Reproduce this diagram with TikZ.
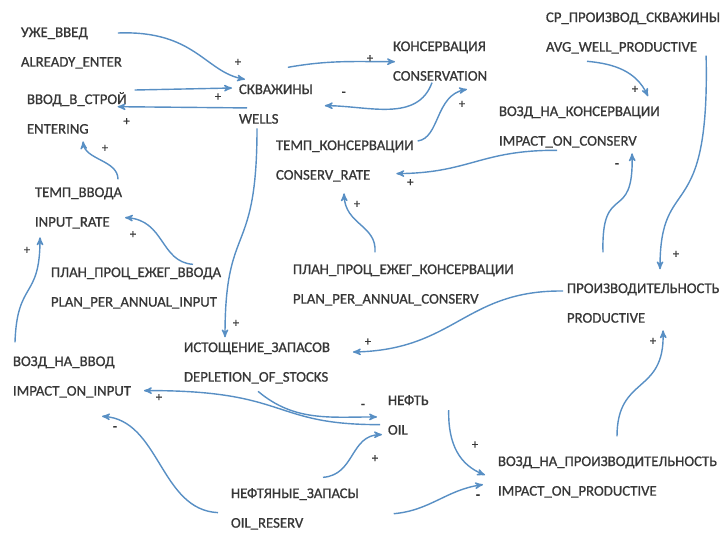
\documentclass[tikz,border=0pt]{standalone}
\usepackage{fontspec}
\setmainfont{Carlito}
\newfontfamily\varfont{Carlito}[FakeBold=0.9]
\usepackage{tikz}
\usetikzlibrary{arrows,positioning}
\definecolor{linkblue}{RGB}{88,143,196}
\definecolor{labelgray}{RGB}{55,55,55}

\begin{document}
\begin{tikzpicture}[x=0.025cm,y=-0.025cm,->,>=stealth',thick,node distance=0.74cm,
	var node/.style={anchor=west,inner sep=1pt,text height=1.6ex,text depth=.4ex,text=labelgray,font=\varfont\fontsize{10.5}{12}\selectfont},
	link/.style={draw=linkblue,line width=1pt},
	sign/.style={text=labelgray,font=\varfont\small,inner sep=0pt}]
	\useasboundingbox (0,0) rectangle (721,535);

	\node[var node] (ALR) at (19,33) {УЖЕ\_ВВЕД};
	\node[var node,below=of ALR.west,anchor=west] (ALRe) {ALREADY\_ENTER};
	\node[var node] (ENT) at (25,100) {ВВОД\_В\_СТРОЙ};
	\node[var node,below=of ENT.west,anchor=west] (ENTe) {ENTERING};
	\node[var node] (WEL) at (237,90) {СКВАЖИНЫ};
	\node[var node,below=of WEL.west,anchor=west] (WELe) {WELLS};
	\node[var node] (CON) at (391,47) {КОНСЕРВАЦИЯ};
	\node[var node,below=of CON.west,anchor=west] (CONe) {CONSERVATION};
	\node[var node] (AVG) at (544,18) {СР\_ПРОИЗВОД\_СКВАЖИНЫ};
	\node[var node,below=of AVG.west,anchor=west] (AVGe) {AVG\_WELL\_PRODUCTIVE};
	\node[var node] (IMC) at (497,112) {ВОЗД\_НА\_КОНСЕРВАЦИИ};
	\node[var node,below=of IMC.west,anchor=west] (IMCe) {IMPACT\_ON\_CONSERV};
	\node[var node] (CRT) at (274,146) {ТЕМП\_КОНСЕРВАЦИИ};
	\node[var node,below=of CRT.west,anchor=west] (CRTe) {CONSERV\_RATE};
	\node[var node] (IRT) at (33,193) {ТЕМП\_ВВОДА};
	\node[var node,below=of IRT.west,anchor=west] (IRTe) {INPUT\_RATE};
	\node[var node] (PPI) at (49,273) {ПЛАН\_ПРОЦ\_ЕЖЕГ\_ВВОДА};
	\node[var node,below=of PPI.west,anchor=west] (PPIe) {PLAN\_PER\_ANNUAL\_INPUT};
	\node[var node] (PPC) at (291,270) {ПЛАН\_ПРОЦ\_ЕЖЕГ\_КОНСЕРВАЦИИ};
	\node[var node,below=of PPC.west,anchor=west] (PPCe) {PLAN\_PER\_ANNUAL\_CONSERV};
	\node[var node] (PRD) at (565,289) {ПРОИЗВОДИТЕЛЬНОСТЬ};
	\node[var node,below=of PRD.west,anchor=west] (PRDe) {PRODUCTIVE};
	\node[var node] (DEP) at (182,348) {ИСТОЩЕНИЕ\_ЗАПАСОВ};
	\node[var node,below=of DEP.west,anchor=west] (DEPe) {DEPLETION\_OF\_STOCKS};
	\node[var node] (IMI) at (11,362) {ВОЗД\_НА\_ВВОД};
	\node[var node,below=of IMI.west,anchor=west] (IMIe) {IMPACT\_ON\_INPUT};
	\node[var node] (OIL) at (386,401) {НЕФТЬ};
	\node[var node,below=of OIL.west,anchor=west] (OILe) {OIL};
	\node[var node] (IMP) at (496,462) {ВОЗД\_НА\_ПРОИЗВОДИТЕЛЬНОСТЬ};
	\node[var node,below=of IMP.west,anchor=west] (IMPe) {IMPACT\_ON\_PRODUCTIVE};
	\node[var node] (RES) at (229,494) {НЕФТЯНЫЕ\_ЗАПАСЫ};
	\node[var node,below=of RES.west,anchor=west] (RESe) {OIL\_RESERV};

	\draw[link] ([shift={(28,0)}]ALR.east) .. controls (195,30) and (205,72) .. ([shift={(8,-2)}]WEL.north west) node[sign,shift={(-7,-17)}] {+};
	\draw[link] ([shift={(6,-10)}]ENT.east) -- ([shift={(-5,-2)}]WEL.west) node[sign,shift={(-14,9)}] {+};
	\draw[link] ([shift={(10,-3)}]WELe.north west) -- ([shift={(-11,-2)}]ENT.south east) node[sign,shift={(9,15)}] {+};
	\draw[link] ([shift={(12,-14)}]WEL.north) to[out=10,in=180] ([shift={(4,6)}]CON.south west) node[sign,shift={(-25,-3)}] {+};
	\draw[link] ([shift={(41,6)}]CONe.west) to[out=-110,in=0] ([shift={(10,7)}]WEL.south east) node[sign,shift={(19,-12)}] {\textbf{-}};
	\draw[link] ([shift={(2,-5)}]CRT.east) .. controls (440,138) and (435,95) .. ([shift={(76,4)}]CONe.south west) node[sign,shift={(-5,15)}] {+};
	\draw[link] ([shift={(60,0)}]IMCe.south west) .. controls (480,150) and (470,173) .. ([shift={(24,-2)}]CRTe.east) node[sign,shift={(14,9)}] {+};
	\draw[link] ([shift={(84,-9)}]PPC.north west) .. controls (377,225) and (345,225) .. ([shift={(70,9)}]CRTe.south west) node[sign,shift={(13,11)}] {+};
	\draw[link] ([shift={(43,5)}]AVGe.south west) to[out=-5,in=115] ([shift={(151,-7)}]IMC.north west) node[sign,shift={(-13,-7)}] {+};
	\draw[link] ([shift={(7,8)}]AVGe.east) .. controls (710,230) and (660,170) .. ([shift={(95,-11)}]PRD.north west) node[sign,shift={(16,-15)}] {+};
	\draw[link] ([shift={(38,-28)}]PRD.north west) .. controls (601,180) and (634,225) .. ([shift={(135,3)}]IMCe.south west) node[sign,shift={(-15,12)}] {\textbf{-}};
	\draw[link] ([shift={(-2,2)}]PRD.west) .. controls (465,290) and (455,350) .. ([shift={(21,4)}]DEP.east) node[sign,shift={(15,-10)}] {+};
	\draw[link] ([shift={(20,0)}]WELe.south west) .. controls (257,260) and (225,220) .. ([shift={(43,-2)}]DEP.north west) node[sign,shift={(11,-14)}] {+};
	\draw[link] ([shift={(85,-5)}]IRT.north west) .. controls (118,160) and (85,160) .. ([shift={(58,3)}]ENTe.south west) node[sign,shift={(22,7)}] {+};
	\draw[link] ([shift={(144,0)}]PPI.north west) .. controls (160,262) and (165,220) .. ([shift={(92,-5)}]IRTe.west) node[sign,shift={(8,17)}] {+};
	\draw[link] ([shift={(4,-11)}]IMI.north west) .. controls (17,280) and (40,300) .. ([shift={(7,6)}]IRTe.south west) node[sign,shift={(-13,13)}] {+};
	\draw[link] ([shift={(76,5)}]DEPe.south west) to[out=-40,in=180] ([shift={(-9,-5)}]OILe.north west) node[sign,shift={(-14,-11)}] {\textbf{-}};
	\draw[link] ([shift={(-6,-6)}]OILe.west) .. controls (270,425) and (290,390) .. ([shift={(11,-1)}]IMIe.east) node[sign,shift={(15,7)}] {+};
	\draw[link] ([shift={(94,-8)}]RES.north west) .. controls (355,475) and (350,435) .. ([shift={(-4,4)}]OILe.west) node[sign,shift={(-7,24)}] {+};
	\draw[link] ([shift={(-11,-11)}]RESe.west) .. controls (160,510) and (160,420) .. ([shift={(91,16)}]IMIe.south west) node[sign,shift={(13,12)}] {\textbf{-}};
	\draw[link] ([shift={(18,9)}]OIL.east) .. controls (448,445) and (460,465) .. ([shift={(-11,13)}]IMP.west) node[sign,shift={(-10,-30)}] {+};
	\draw[link] ([shift={(33,11)}]RES.south east) to[out=5,in=188] ([shift={(-13,-7)}]IMPe.west) node[sign,shift={(-5,12)}] {\textbf{-}};
	\draw[link] ([shift={(121,-17)}]IMP.north west) .. controls (617,375) and (665,395) .. ([shift={(98,3)}]PRDe.south west) node[sign,shift={(-10,11)}] {+};
\end{tikzpicture}
\end{document}
